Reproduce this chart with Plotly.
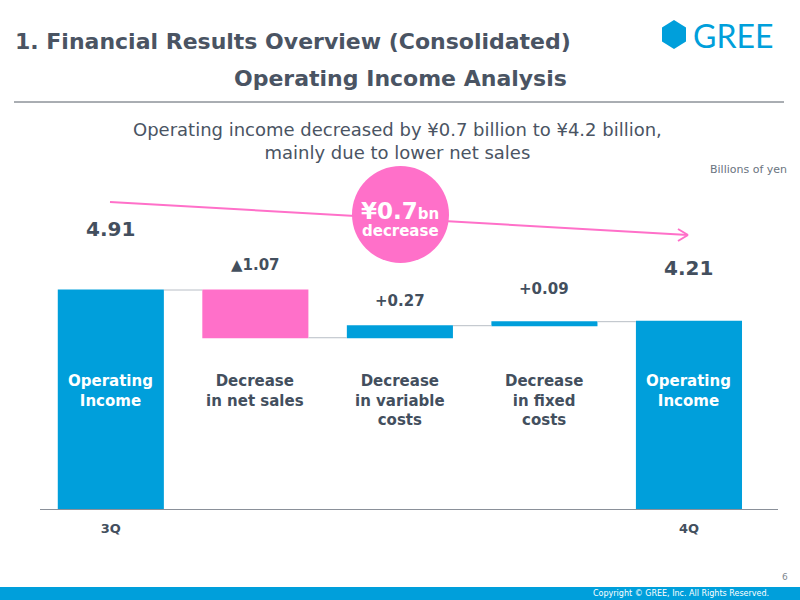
import plotly.graph_objects as go

# ---- data ----
steps = ["3Q Operating Income", "Decrease in net sales", "Decrease in variable costs",
         "Decrease in fixed costs", "4Q Operating Income"]
step_x = [0, 1, 2, 3, 4]
measures = ["absolute", "relative", "relative", "relative", "absolute"]
values = [4.91, -1.07, 0.27, 0.09, 4.21]
value_labels = ["4.91", "▲1.07", "+0.27", "+0.09", "4.21"]
bar_labels = ["Operating<br>Income", "Decrease<br>in net sales", "Decrease<br>in variable<br>costs",
              "Decrease<br>in fixed<br>costs", "Operating<br>Income"]
tick_vals = [0, 4]
tick_text = ["3Q", "4Q"]

BLUE = "#009fdb"
PINK = "#ff70c9"
DARK = "#434f5e"
FONT = "DejaVu Sans"

# plot-area pixel geometry
PL, PR, PT, PB = 40, 778, 110, 509
PX_PER_UNIT = 44.6
YMAX = (PB - PT) / PX_PER_UNIT


def px(x):
    return (x - PL) / (PR - PL)


def py(y):
    return (PB - y) / (PB - PT)


fig = go.Figure()
fig.add_trace(go.Waterfall(
    x=step_x, y=values, measure=measures, width=0.734,
    increasing=dict(marker=dict(color=BLUE)),
    decreasing=dict(marker=dict(color=PINK)),
    totals=dict(marker=dict(color=BLUE)),
    connector=dict(line=dict(color="#b8bec6", width=1), mode="between"),
    hoverinfo="skip", textinfo="none", showlegend=False,
))

# running levels to place value labels
levels = []
run = 0
for m, v in zip(measures, values):
    if m == "absolute":
        run = v
        levels.append(v)
    else:
        top = max(run, run + v)
        run = run + v
        levels.append(top)

annotations = []
shifts = [61, 25, 25, 33, 53]
sizes = [20, 15, 15, 15, 20]
for xi, lvl, lab, sh, sz in zip(step_x, levels, value_labels, shifts, sizes):
    annotations.append(dict(x=xi, y=lvl, xref="x", yref="y", text=f"<b>{lab}</b>",
                            showarrow=False, yshift=sh, font=dict(size=sz, color=DARK, family=FONT)))

for xi, lab, m in zip(step_x, bar_labels, measures):
    col = "white" if m == "absolute" else DARK
    annotations.append(dict(x=xi, y=py(370), xref="x", yref="paper", yanchor="top",
                            text=f"<b>{lab}</b>", showarrow=False,
                            font=dict(size=15, color=col, family=FONT)))

# titles and texts
annotations += [
    dict(x=px(13), y=py(41), xref="paper", yref="paper", xanchor="left", yanchor="middle",
         text="<b>1. Financial Results Overview (Consolidated)</b>", showarrow=False,
         font=dict(size=22, color="#4a5463", family=FONT)),
    dict(x=px(400), y=py(79), xref="paper", yref="paper", xanchor="center", yanchor="middle",
         text="<b>Operating Income Analysis</b>", showarrow=False,
         font=dict(size=22, color="#4a5463", family=FONT)),
    dict(x=px(397), y=py(141), xref="paper", yref="paper", xanchor="center", yanchor="middle",
         text="Operating income decreased by ¥0.7 billion to ¥4.2 billion,<br>mainly due to lower net sales",
         showarrow=False, align="center",
         font=dict(size=18, color="#4a5463", family=FONT)),
    dict(x=px(789), y=py(169), xref="paper", yref="paper", xanchor="right", yanchor="middle",
         text="Billions of yen", showarrow=False, font=dict(size=11, color="#6a7480", family=FONT)),
    dict(x=px(400), y=py(211), xref="paper", yref="paper", xanchor="center", yanchor="middle",
         text="<b>¥0.7<span style='font-size:15px'>bn</span></b>", showarrow=False,
         font=dict(size=23, color="white", family=FONT)),
    dict(x=px(400), y=py(231), xref="paper", yref="paper", xanchor="center", yanchor="middle",
         text="<b>decrease</b>", showarrow=False, font=dict(size=15, color="white", family=FONT)),
    dict(x=px(691), y=py(36), xref="paper", yref="paper", xanchor="left", yanchor="middle",
         text="GREE", showarrow=False, font=dict(size=32, color=BLUE, family="Lato")),
    dict(x=px(790), y=py(577), xref="paper", yref="paper", xanchor="right", yanchor="middle",
         text="6", showarrow=False, font=dict(size=9, color="#808890", family=FONT)),
    dict(x=px(771), y=py(593), xref="paper", yref="paper", xanchor="right", yanchor="middle",
         text="Copyright © GREE, Inc. All Rights Reserved.", showarrow=False,
         font=dict(size=8, color="white", family=FONT)),
]

hx, hy = 674, 34.5
hex_pts = [(hx, 20), (hx + 12, 27.5), (hx + 12, 41.5), (hx, 49), (hx - 12, 41.5), (hx - 12, 27.5)]
hex_path = "M " + " L ".join(f"{px(a)},{py(b)}" for a, b in hex_pts) + " Z"

shapes = [
    dict(type="line", xref="paper", yref="paper", x0=px(14), x1=px(784), y0=py(102), y1=py(102),
         line=dict(color="#555c66", width=1)),
    dict(type="line", xref="paper", yref="paper", x0=px(110), x1=px(688), y0=py(202), y1=py(235),
         line=dict(color=PINK, width=2)),
    dict(type="line", xref="paper", yref="paper", x0=px(688), x1=px(678), y0=py(235), y1=py(229),
         line=dict(color=PINK, width=2)),
    dict(type="line", xref="paper", yref="paper", x0=px(688), x1=px(678), y0=py(235), y1=py(241),
         line=dict(color=PINK, width=2)),
    dict(type="circle", xref="paper", yref="paper", x0=px(352), x1=px(449), y0=py(166), y1=py(263),
         fillcolor=PINK, line=dict(width=0)),
    dict(type="path", xref="paper", yref="paper", path=hex_path, fillcolor=BLUE, line=dict(width=0)),
    dict(type="rect", xref="paper", yref="paper", x0=px(0), x1=px(800), y0=py(587), y1=py(600),
         fillcolor=BLUE, line=dict(width=0)),
]

fig.update_layout(
    width=800, height=600,
    margin=dict(l=PL, r=800 - PR, t=PT, b=600 - PB),
    paper_bgcolor="white", plot_bgcolor="white",
    xaxis=dict(range=[-0.49, 4.616], tickvals=tick_vals, ticktext=[f"<b>{t}</b>" for t in tick_text],
               showgrid=False, zeroline=False, showline=True, linecolor="#8a9099", linewidth=1,
               ticks="", ticklabelstandoff=7, tickfont=dict(size=13, color=DARK, family=FONT),
               fixedrange=True),
    yaxis=dict(range=[0, YMAX], visible=False, fixedrange=True),
    annotations=annotations,
    shapes=shapes,
    showlegend=False,
)

fig.write_html("out.html")
